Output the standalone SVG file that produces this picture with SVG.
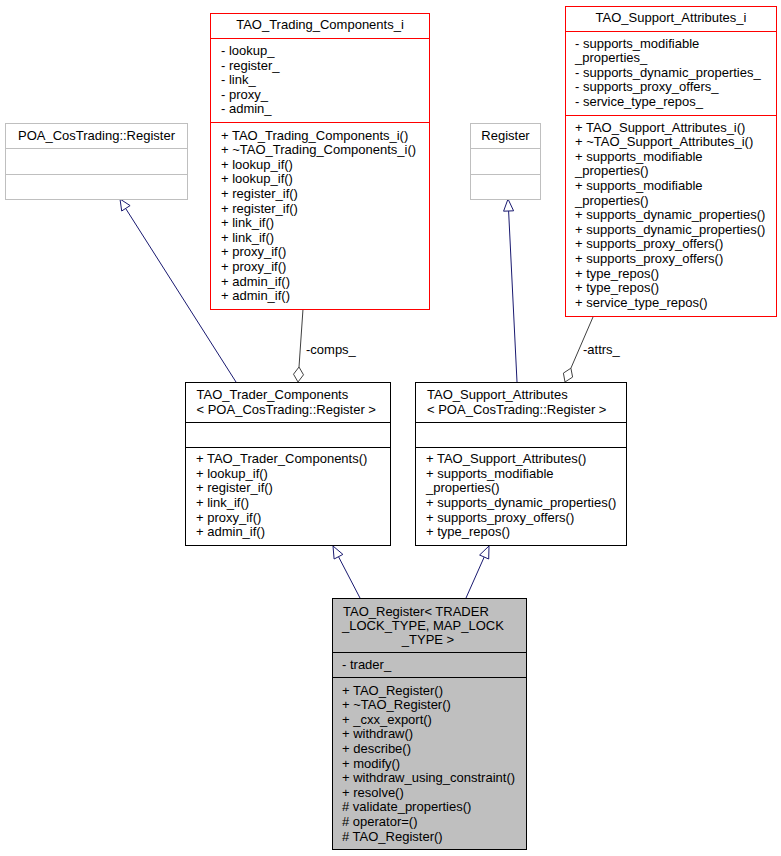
<svg xmlns="http://www.w3.org/2000/svg" width="781" height="856" viewBox="0 0 781 856">
<style>
text{font-family:"Liberation Sans",Arial,sans-serif;font-size:13px;fill:#000}
.c{text-anchor:middle}
.red{fill:#fff;stroke:#ff0000;stroke-width:1}
.gry{fill:#fff;stroke:#bfbfbf;stroke-width:1}
.blk{fill:#fff;stroke:#000;stroke-width:1}
.cur{fill:#bfbfbf;stroke:#000;stroke-width:1}
.inh{stroke:#191970;fill:none;stroke-width:1}
.inha{stroke:#191970;fill:#fff;stroke-width:1}
.agg{stroke:#404040;fill:none;stroke-width:1}
.agga{stroke:#404040;fill:#fff;stroke-width:1}
</style>
<rect width="781" height="856" fill="#fff"/>
<g id="connectors">
<line class="inh" x1="236" y1="382" x2="126" y2="209"/>
<polygon class="inha" points="120,199 130.1,205.6 121.7,211"/>
<line class="inh" x1="517" y1="382" x2="508.6" y2="211"/>
<polygon class="inha" points="508,199 513.6,210.8 503.6,211.2"/>
<line class="inh" x1="360" y1="598" x2="338.5" y2="556.7"/>
<polygon class="inha" points="333,546 342.9,554.4 334.1,559"/>
<line class="inh" x1="466" y1="598" x2="484.2" y2="557"/>
<polygon class="inha" points="489,546 488.7,559 479.6,555"/>
<line class="agg" x1="303" y1="309" x2="299" y2="367"/>
<polygon class="agga" points="298,382 303.5,374.8 299,367 293.5,374.2"/>
<text x="306" y="353.5">-comps_</text>
<line class="agg" x1="593" y1="317" x2="570.9" y2="368.2"/>
<polygon class="agga" points="565,382 572.6,377.1 570.9,368.2 563.4,373.1"/>
<text x="583" y="353.5">-attrs_</text>
</g>
<g id="POA_CosTrading_Register">
<rect class="gry" x="5.5" y="123.5" width="182" height="76"/>
<line class="gry" x1="5.5" y1="148.5" x2="187.5" y2="148.5"/>
<line class="gry" x1="5.5" y1="174.5" x2="187.5" y2="174.5"/>
<text class="c" x="96.5" y="140">POA_CosTrading::Register</text>
</g>
<g id="TAO_Trading_Components_i">
<rect class="red" x="210.5" y="13.5" width="219" height="296"/>
<line class="red" x1="210.5" y1="38.5" x2="429.5" y2="38.5"/>
<line class="red" x1="210.5" y1="122.5" x2="429.5" y2="122.5"/>
<text class="c" x="320" y="29">TAO_Trading_Components_i</text>
<text x="221" y="55">- lookup_</text>
<text x="221" y="69.5">- register_</text>
<text x="221" y="84">- link_</text>
<text x="221" y="98.5">- proxy_</text>
<text x="221" y="113">- admin_</text>
<text x="221" y="139.5">+ TAO_Trading_Components_i()</text>
<text x="221" y="154.1">+ ~TAO_Trading_Components_i()</text>
<text x="221" y="168.7">+ lookup_if()</text>
<text x="221" y="183.3">+ lookup_if()</text>
<text x="221" y="197.9">+ register_if()</text>
<text x="221" y="212.5">+ register_if()</text>
<text x="221" y="227.1">+ link_if()</text>
<text x="221" y="241.7">+ link_if()</text>
<text x="221" y="256.3">+ proxy_if()</text>
<text x="221" y="270.9">+ proxy_if()</text>
<text x="221" y="285.5">+ admin_if()</text>
<text x="221" y="300.1">+ admin_if()</text>
</g>
<g id="Register">
<rect class="gry" x="470.5" y="123.5" width="70" height="76"/>
<line class="gry" x1="470.5" y1="148.5" x2="540.5" y2="148.5"/>
<line class="gry" x1="470.5" y1="174.5" x2="540.5" y2="174.5"/>
<text class="c" x="505.5" y="140">Register</text>
</g>
<g id="TAO_Support_Attributes_i">
<rect class="red" x="565.5" y="6.5" width="211" height="310"/>
<line class="red" x1="565.5" y1="31.5" x2="776.5" y2="31.5"/>
<line class="red" x1="565.5" y1="115.5" x2="776.5" y2="115.5"/>
<text class="c" x="671" y="22">TAO_Support_Attributes_i</text>
<text x="575" y="47.5">- supports_modifiable</text>
<text x="575" y="62">_properties_</text>
<text x="575" y="76.5">- supports_dynamic_properties_</text>
<text x="575" y="91">- supports_proxy_offers_</text>
<text x="575" y="105.5">- service_type_repos_</text>
<text x="575" y="131.5">+ TAO_Support_Attributes_i()</text>
<text x="575" y="146.1">+ ~TAO_Support_Attributes_i()</text>
<text x="575" y="160.7">+ supports_modifiable</text>
<text x="575" y="175.3">_properties()</text>
<text x="575" y="189.9">+ supports_modifiable</text>
<text x="575" y="204.5">_properties()</text>
<text x="575" y="219.1">+ supports_dynamic_properties()</text>
<text x="575" y="233.7">+ supports_dynamic_properties()</text>
<text x="575" y="248.3">+ supports_proxy_offers()</text>
<text x="575" y="262.9">+ supports_proxy_offers()</text>
<text x="575" y="277.5">+ type_repos()</text>
<text x="575" y="292.1">+ type_repos()</text>
<text x="575" y="306.7">+ service_type_repos()</text>
</g>
<g id="TAO_Trader_Components">
<rect class="blk" x="185.5" y="382.5" width="205" height="163"/>
<line class="blk" x1="185.5" y1="422.5" x2="390.5" y2="422.5"/>
<line class="blk" x1="185.5" y1="447.5" x2="390.5" y2="447.5"/>
<text x="196.5" y="398.5">TAO_Trader_Components</text>
<text x="196.5" y="413.5">&lt; POA_CosTrading::Register &gt;</text>
<text x="196" y="463">+ TAO_Trader_Components()</text>
<text x="196" y="477.7">+ lookup_if()</text>
<text x="196" y="492.4">+ register_if()</text>
<text x="196" y="507">+ link_if()</text>
<text x="196" y="521.7">+ proxy_if()</text>
<text x="196" y="536.4">+ admin_if()</text>
</g>
<g id="TAO_Support_Attributes">
<rect class="blk" x="415.5" y="382.5" width="211" height="163"/>
<line class="blk" x1="415.5" y1="422.5" x2="626.5" y2="422.5"/>
<line class="blk" x1="415.5" y1="447.5" x2="626.5" y2="447.5"/>
<text x="427" y="398.5">TAO_Support_Attributes</text>
<text x="427" y="413.5">&lt; POA_CosTrading::Register &gt;</text>
<text x="426" y="463">+ TAO_Support_Attributes()</text>
<text x="426" y="477.7">+ supports_modifiable</text>
<text x="426" y="492.4">_properties()</text>
<text x="426" y="507">+ supports_dynamic_properties()</text>
<text x="426" y="521.7">+ supports_proxy_offers()</text>
<text x="426" y="536.4">+ type_repos()</text>
</g>
<g id="TAO_Register">
<rect class="cur" x="332.5" y="598.5" width="194" height="251"/>
<line class="cur" x1="332.5" y1="652.5" x2="526.5" y2="652.5"/>
<line class="cur" x1="332.5" y1="677.5" x2="526.5" y2="677.5"/>
<text x="343" y="615.5">TAO_Register&lt; TRADER</text>
<text x="342" y="629.8">_LOCK_TYPE, MAP_LOCK</text>
<text class="c" x="428" y="644">_TYPE &gt;</text>
<text x="342" y="668.5">- trader_</text>
<text x="342" y="694.5">+ TAO_Register()</text>
<text x="342" y="709.1">+ ~TAO_Register()</text>
<text x="342" y="723.7">+ _cxx_export()</text>
<text x="342" y="738.3">+ withdraw()</text>
<text x="342" y="752.9">+ describe()</text>
<text x="342" y="767.5">+ modify()</text>
<text x="342" y="782.1">+ withdraw_using_constraint()</text>
<text x="342" y="796.7">+ resolve()</text>
<text x="342" y="811.3"># validate_properties()</text>
<text x="342" y="825.9"># operator=()</text>
<text x="342" y="840.5"># TAO_Register()</text>
</g>
</svg>
